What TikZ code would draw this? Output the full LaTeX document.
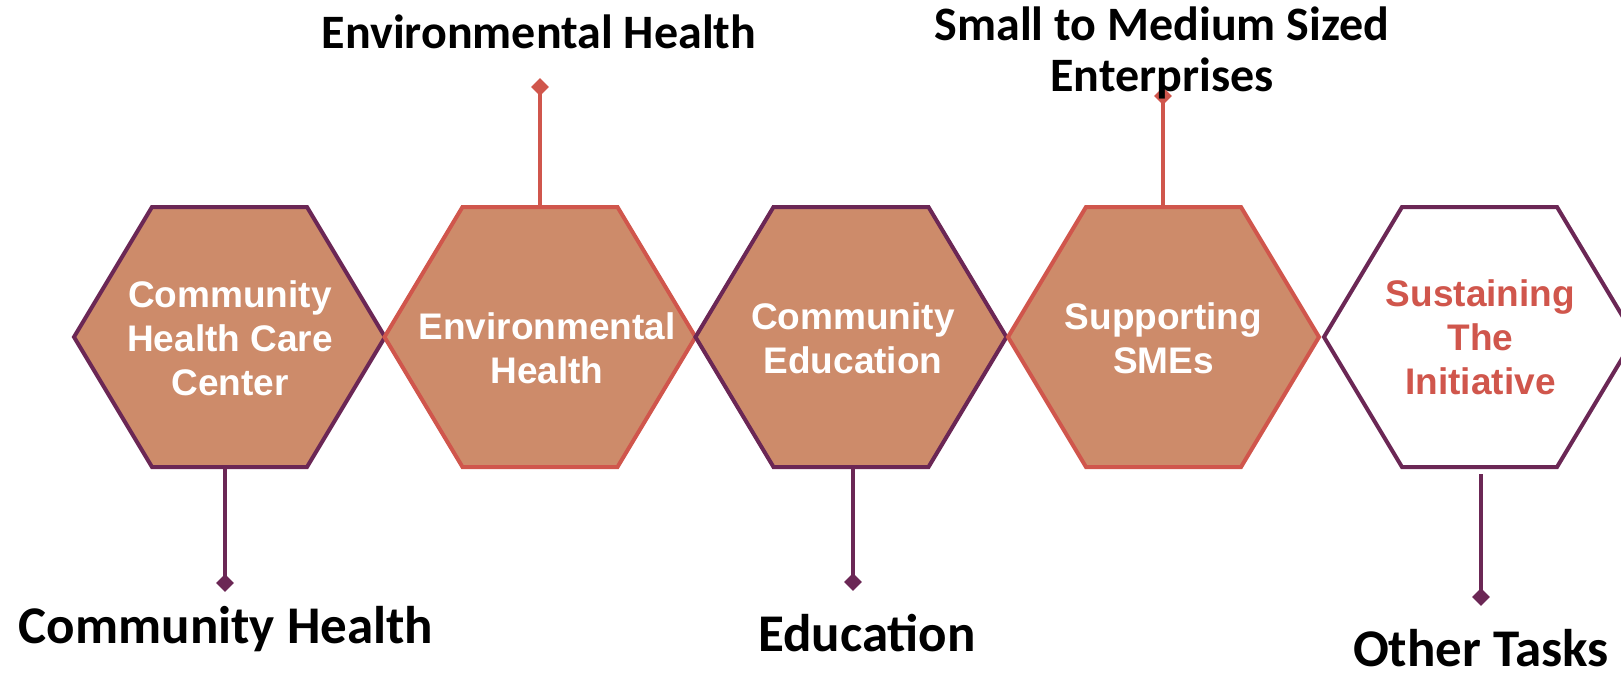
\documentclass[tikz,border=0pt]{standalone}
\usepackage{fontspec}
\setmainfont{Liberation Sans}
\newfontfamily\calibri{Carlito}
\usetikzlibrary{shapes.geometric}
\definecolor{hexfill}{HTML}{CD8B6A}
\definecolor{plum}{HTML}{6B2755}
\definecolor{coral}{HTML}{D0564C}
\begin{document}
\begin{tikzpicture}[x=1pt,y=-1pt,
  hexline/.style={line width=4pt, line join=miter},
  hexagon/.pic={\path[pic actions] (-155.5,0) -- (-77.5,-130) -- (77.5,-130) -- (155.5,0) -- (77.5,130) -- (-77.5,130) -- cycle;},
  hextext/.style={font=\fontsize{37}{44}\selectfont\bfseries, align=center, text=white, inner sep=0pt},
  tagsmall/.style={font=\calibri\fontsize{48}{52}\selectfont\bfseries, anchor=base, align=center, inner sep=0pt},
  tagbig/.style={font=\calibri\fontsize{53}{60}\selectfont\bfseries, anchor=base, inner sep=0pt},
  stem/.style={line width=4pt},
  tip/.style={diamond, inner sep=0pt, minimum width=18pt, minimum height=18pt}]
\clip (0,0) rectangle (1621,672);
\useasboundingbox (0,0) rectangle (1621,672);

% hexagons
\pic[fill=hexfill, draw=plum, hexline] at (229.5,337) {hexagon};
\pic[fill=hexfill, draw=coral, hexline] at (540,337) {hexagon};
\pic[fill=hexfill, draw=plum, hexline] at (851,337) {hexagon};
\pic[fill=hexfill, draw=coral, hexline] at (1163.5,337) {hexagon};
\pic[fill=white, draw=plum, hexline] at (1479.5,337) {hexagon};

% hexagon texts
\node[hextext] (h1) at (230,338) {Community\\Health Care\\Center};
\node[hextext] (h2) at (547,348) {Environmental\\Health};
\node[hextext] (h3) at (853,338) {Community\\Education};
\node[hextext] (h4) at (1163.5,338) {Supporting\\SMEs};
\node[hextext, text=coral] (h5) at (1480.5,337) {Sustaining\\The\\Initiative};

% stem anchors on the hexagons
\coordinate (b1) at (225,467);
\coordinate (b2) at (540,207);
\coordinate (b3) at (853,467);
\coordinate (b4) at (1163,207);
\coordinate (b5) at (1481,474);

% diamond tips
\node[tip, fill=plum] (t1) at (225,583) {};
\node[tip, fill=coral] (t2) at (540,87) {};
\node[tip, fill=plum] (t3) at (853,582) {};
\node[tip, fill=coral] (t4) at (1163,96) {};
\node[tip, fill=plum] (t5) at (1481,597) {};

\draw[stem, plum] (b1) -- (t1.center);
\draw[stem, coral] (b2) -- (t2.center);
\draw[stem, plum] (b3) -- (t3.center);
\draw[stem, coral] (b4) -- (t4.center);
\draw[stem, plum] (b5) -- (t5.center);

% labels
\node[tagsmall] (l2) at (539,48) {Environmental Health};
\node[tagsmall] (l4a) at (1162,40) {Small to Medium Sized};
\node[tagsmall] (l4b) at (1162,91) {Enterprises};
\node[tagbig] (l1) at (226,643) {Community Health};
\node[tagbig] (l3) at (867,651) {Education};
\node[tagbig] (l5) at (1481,666) {Other Tasks};
\end{tikzpicture}
\end{document}
